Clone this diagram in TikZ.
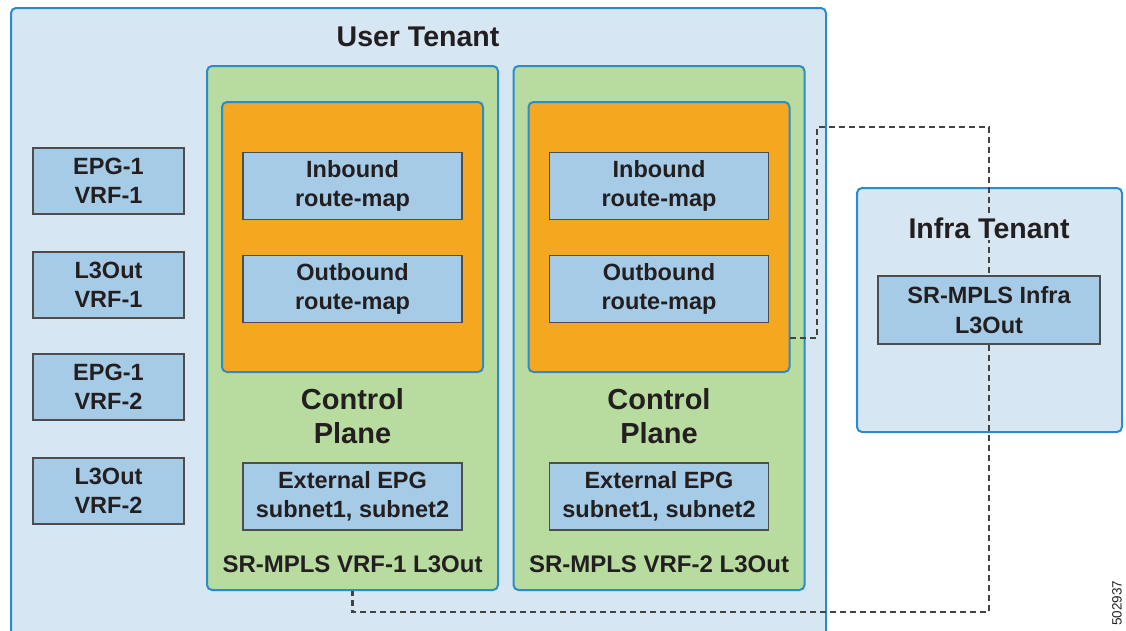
\documentclass[tikz,border=0pt]{standalone}
\usepackage{fontspec}
\setmainfont{Liberation Sans}
\usetikzlibrary{positioning}
\definecolor{tenantfill}{HTML}{D7E6F3}
\definecolor{tenantline}{HTML}{2B8CCB}
\definecolor{vrffill}{HTML}{B8DB9F}
\definecolor{cpfill}{HTML}{F4A81F}
\definecolor{objfill}{HTML}{A6CBE6}
\definecolor{objline}{HTML}{4D4D4F}
\definecolor{ink}{HTML}{231F20}
\tikzset{tenant/.style={draw=tenantline,fill=tenantfill,line width=2pt,rounded corners=5pt,inner sep=0pt},
         vrfbox/.style={draw=tenantline,fill=vrffill,line width=2pt,rounded corners=5pt,inner sep=0pt},
         cpbox/.style={draw=tenantline,fill=cpfill,line width=2pt,rounded corners=5pt,inner sep=0pt},
         obj/.style={draw=objline,fill=objfill,line width=1.5pt,align=center,text=ink,inner sep=0pt,
                     font=\bfseries\fontsize{23.5}{29.5}\selectfont},
         title/.style={text=ink,align=center,font=\bfseries\fontsize{28.5}{32}\selectfont},
         cplabel/.style={text=ink,align=center,font=\bfseries\fontsize{29}{34.5}\selectfont},
         vrflabel/.style={text=ink,font=\bfseries\fontsize{24}{28}\selectfont},
         link/.style={draw=ink!85,line width=2.2pt,dash pattern=on 6pt off 4pt}}

\begin{document}
\begin{tikzpicture}[x=1pt,y=-1pt]
\clip (0,0) rectangle (1126,630);
% user tenant
\node[tenant,minimum width=815,minimum height=632] (user) at (418.5,324) {};
\node[title] (usertitle) at (418,37) {User Tenant};
\node[obj,minimum width=151,minimum height=66] (epgone) at (108.5,181) {EPG-1\\VRF-1};
\node[obj,minimum width=151,minimum height=66] (outone) at (108.5,285) {L3Out\\VRF-1};
\node[obj,minimum width=151,minimum height=66] (epgtwo) at (108.5,387) {EPG-1\\VRF-2};
\node[obj,minimum width=151,minimum height=66] (outtwo) at (108.5,491) {L3Out\\VRF-2};
% sr-mpls l3outs
\node[vrfbox,minimum width=291,minimum height=524] (vrfone) at (352.5,328) {};
\node[cpbox,minimum width=261,minimum height=270] (cpone) at (352.5,237) {};
\node[obj,minimum width=219,minimum height=67] (inone) at (352.5,186) {Inbound\\route-map};
\node[obj,minimum width=219,minimum height=67] (outmapone) at (352.5,289) {Outbound\\route-map};
\node[cplabel] (cplabelone) at (352.5,416) {Control\\Plane};
\node[obj,minimum width=219,minimum height=67] (extone) at (352.5,496.5) {External EPG\\subnet1, subnet2};
\node[vrflabel] (vrflabelone) at (352.5,564) {SR-MPLS VRF-1 L3Out};

\node[vrfbox,minimum width=291,minimum height=524] (vrftwo) at (659,328) {};
\node[cpbox,minimum width=261,minimum height=270] (cptwo) at (659,237) {};
\node[obj,minimum width=219,minimum height=67] (intwo) at (659,186) {Inbound\\route-map};
\node[obj,minimum width=219,minimum height=67] (outmaptwo) at (659,289) {Outbound\\route-map};
\node[cplabel] (cplabeltwo) at (659,416) {Control\\Plane};
\node[obj,minimum width=219,minimum height=67] (exttwo) at (659,496.5) {External EPG\\subnet1, subnet2};
\node[vrflabel] (vrflabeltwo) at (659,564) {SR-MPLS VRF-2 L3Out};
% infra tenant
\node[tenant,minimum width=265,minimum height=244] (infra) at (989.5,310) {};
\node[obj,minimum width=222,minimum height=68] (infraout) at (989,310) {SR-MPLS Infra\\L3Out};
\coordinate (cpexit) at (790,338);
\draw[link] (cpexit) -| (817,127) -| (infraout.north);
\draw[link] (infraout.south) |- (352.5,612) -| (vrfone.south);
\node[title,fill=tenantfill,inner sep=2pt] (infratitle) at (989,228) {Infra Tenant};
\node[text=ink,rotate=90,font=\fontsize{13.5}{15}\selectfont] (figid) at (1117,603) {502937};
\end{tikzpicture}
\end{document}
